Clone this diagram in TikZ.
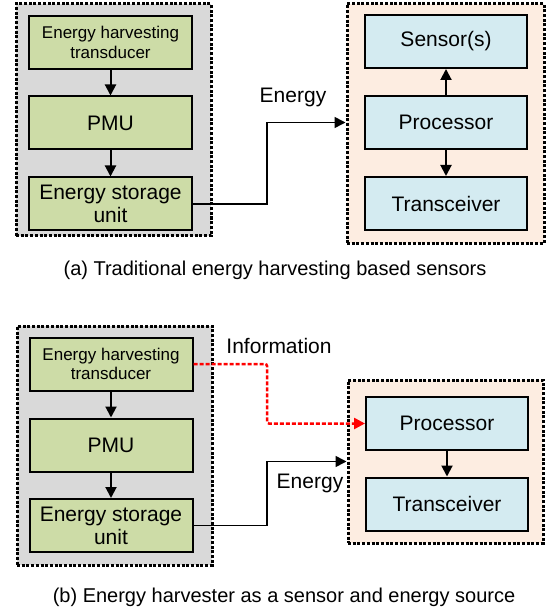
\documentclass[tikz,border=0pt]{standalone}
\usepackage{fontspec}
\setmainfont{Liberation Sans}
\usetikzlibrary{arrows.meta}
\definecolor{boxgreen}{RGB}{205,220,167}
\definecolor{boxblue}{RGB}{212,235,241}
\definecolor{panelgray}{RGB}{217,217,217}
\definecolor{panelpeach}{RGB}{253,237,225}
\tikzset{
  panel/.style={draw=black, line width=3pt, dash pattern=on 3pt off 1.7pt, inner sep=0pt},
  block/.style={draw=black, line width=2pt, inner sep=0pt, align=center, font=\fontsize{21}{23}\selectfont},
  hblock/.style={block, fill=boxgreen, minimum width=163pt, minimum height=53pt},
  sblock/.style={block, fill=boxblue, minimum width=162pt, minimum height=53pt},
  flow/.style={line width=2pt, -{Triangle[length=11pt,width=11pt]}},
  supply/.style={line width=1.6pt, -{Triangle[length=11pt,width=11pt]}},
  info/.style={red, line width=2.5pt, dash pattern=on 4pt off 2pt, rounded corners=2pt, -{Triangle[length=11pt,width=11pt]}},
  lbl/.style={font=\fontsize{21}{23}\selectfont, inner sep=0pt},
  caption/.style={font=\fontsize{20}{24}\selectfont, inner sep=0pt}
}
\begin{document}
\begin{tikzpicture}[x=1pt,y=-1pt]
  \useasboundingbox (0,0) rectangle (551,609);
  % (a) traditional
  \node[panel, fill=panelgray, minimum width=195pt, minimum height=232pt] (harvA) at (113.5,120) {};
  \node[panel, fill=panelpeach, minimum width=197pt, minimum height=239pt] (nodeA) at (445.5,123.5) {};
  \node[hblock, font=\fontsize{17}{19.5}\selectfont] (tranA) at (110.5,42.5) {Energy harvesting\\transducer};
  \node[hblock] (pmuA) at (110.5,123) {PMU};
  \node[hblock] (storeA) at (110.5,204) {Energy storage\\unit};
  \node[sblock] (sensA) at (446,41.5) {Sensor(s)};
  \node[sblock] (procA) at (446,122.5) {Processor};
  \node[sblock] (xcvrA) at (446,203.5) {Transceiver};
  \draw[flow] (tranA) -- (pmuA);
  \draw[flow] (pmuA) -- (storeA);
  \draw[flow] (procA) -- (sensA);
  \draw[flow] (procA) -- (xcvrA);
  \draw[supply] (storeA.east) -- (267,204) |- (nodeA.west |- procA.west);
  \node[lbl] (enA) at (293,97) {Energy};
  \node[caption] (capA) at (275,270) {(a) Traditional energy harvesting based sensors};
  % (b) harvester as sensor
  \node[panel, fill=panelgray, minimum width=195pt, minimum height=239pt] (harvB) at (114.5,445.5) {};
  \node[panel, fill=panelpeach, minimum width=195pt, minimum height=163pt] (nodeB) at (445.5,461.5) {};
  \node[hblock, font=\fontsize{17}{19.5}\selectfont] (tranB) at (111,364) {Energy harvesting\\transducer};
  \node[hblock] (pmuB) at (111,445) {PMU};
  \node[hblock] (storeB) at (111,525.5) {Energy storage\\unit};
  \node[sblock] (procB) at (447,423.5) {Processor};
  \node[sblock] (xcvrB) at (447,504) {Transceiver};
  \draw[flow] (tranB) -- (pmuB);
  \draw[flow] (pmuB) -- (storeB);
  \draw[flow] (procB) -- (xcvrB);
  \draw[info] (tranB.east) -- (267,364) |- (procB.west);
  \draw[supply] (storeB.east) -- (267,525.5) |- (nodeB.west);
  \node[lbl] (infoB) at (279,346) {Information};
  \node[lbl] (enB) at (310,483) {Energy};
  \node[caption] (capB) at (284,597) {(b) Energy harvester as a sensor and energy source};
\end{tikzpicture}
\end{document}
